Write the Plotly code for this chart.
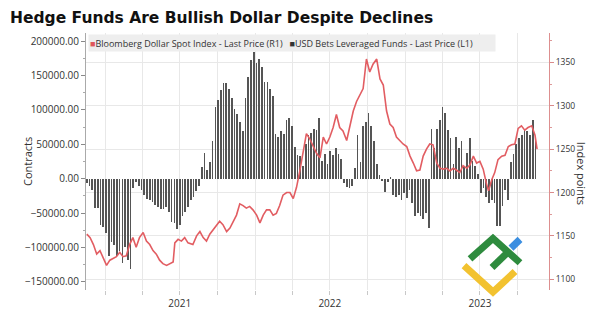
import plotly.graph_objects as go
import pandas as pd

title_text = "Hedge Funds Are Bullish Dollar Despite Declines"
line_name = "Bloomberg Dollar Spot Index - Last Price (R1)"
bar_name = "USD Bets Leveraged Funds - Last Price (L1)"

# Weekly USD bets (leveraged funds), thousands of contracts
bar_start = "2020-11-17"
bar_end = "2023-11-13"
usd_bets_k = [
    -7, -11, -16, -42, -42, -68, -70, -79, -112, -92, -97, -112, -105, -122, -99, -119, -132, -13,
    -5, -10, -17, -24, -29, -31, -34, -39, -41, -44, -44, -41, -48, -63, -65, -73, -67, -54, -48, -41,
    -31, -27, -18, -10,
    17, 37, 13, 25, 55, 105, 115, 129, 139, 139, 131, 117, 101, 94, 82, 70, 117, 148, 172, 184, 169,
    174, 162, 141, 141, 131, 120, 65, 60, 70, 65, 86, 89, 77, 46, 35,
    33, 19, 50, 64, 66, 73, 71, 89, 26, 36, 22, 41, 35, 44, 36, 29, -7, -12, -13, -11, 16, 63, 24, 77,
    82, 95, 77, 55, 21, 5, -3, -20, -5, 2, -24, -26, -24, -31, -21, -28, -16, -35, -54, -50, -54, -59,
    -50, -72,
    73, 45, 73, 85, 104, 95, 71, 59, 21, 60, 45, 55, 19, 38, 59, 26, 19, 7,
    -21, -13, -26, -35, -31, -35, -69, -69, -40, -16, -31,
    24, 36, 50, 59, 64, 71, 69, 64, 85, 62,
]

# Bloomberg Dollar Spot Index
bbdxy_dates = [
    "2020-11-17", "2020-11-25", "2020-12-03", "2020-12-11", "2020-12-19", "2020-12-27", "2021-01-04",
    "2021-01-12", "2021-01-20", "2021-01-28", "2021-02-05", "2021-02-13", "2021-02-21", "2021-03-01",
    "2021-03-09", "2021-03-17", "2021-03-25", "2021-04-03", "2021-04-11", "2021-04-19", "2021-04-27",
    "2021-05-05", "2021-05-13", "2021-05-21", "2021-05-30", "2021-06-07", "2021-06-15", "2021-06-19",
    "2021-06-27", "2021-07-05", "2021-07-13", "2021-07-21", "2021-08-02", "2021-08-11", "2021-08-19",
    "2021-08-27", "2021-09-04", "2021-09-12", "2021-09-20", "2021-09-28", "2021-10-06", "2021-10-14",
    "2021-10-23", "2021-10-31", "2021-11-08", "2021-11-16", "2021-11-24", "2021-12-02", "2021-12-10",
    "2021-12-18", "2021-12-26", "2022-01-04", "2022-01-12", "2022-01-20", "2022-01-28", "2022-02-05",
    "2022-02-13", "2022-02-21", "2022-03-01", "2022-03-09", "2022-03-18", "2022-03-26", "2022-04-03",
    "2022-04-11", "2022-04-19", "2022-04-27", "2022-05-05", "2022-05-13", "2022-05-21", "2022-05-30",
    "2022-06-07", "2022-06-15", "2022-06-23", "2022-07-01", "2022-07-09", "2022-07-17", "2022-07-25",
    "2022-08-02", "2022-08-11", "2022-08-19", "2022-08-27", "2022-09-04", "2022-09-12", "2022-09-20",
    "2022-09-28", "2022-10-03", "2022-10-06", "2022-10-14", "2022-10-23", "2022-10-31", "2022-11-08",
    "2022-11-16", "2022-11-24", "2022-12-02", "2022-12-10", "2022-12-18", "2022-12-26", "2023-01-04",
    "2023-01-12", "2023-01-20", "2023-01-28", "2023-02-05", "2023-02-13", "2023-02-21", "2023-03-01",
    "2023-03-09", "2023-03-18", "2023-03-26", "2023-04-03", "2023-04-11", "2023-04-19", "2023-04-27",
    "2023-05-05", "2023-05-13", "2023-05-21", "2023-05-30", "2023-06-07", "2023-06-15", "2023-06-23",
    "2023-07-01", "2023-07-09", "2023-07-17", "2023-07-22", "2023-07-30", "2023-08-06", "2023-08-14",
    "2023-08-23", "2023-08-31", "2023-09-08", "2023-09-16", "2023-09-24", "2023-10-02", "2023-10-10",
    "2023-10-18", "2023-10-26", "2023-11-04", "2023-11-08", "2023-11-12", "2023-11-17",
]
bbdxy_values = [
    1152, 1148, 1140, 1129, 1133, 1124, 1116,
    1122, 1124, 1126, 1131, 1126, 1127, 1140,
    1148, 1137, 1148, 1154, 1144, 1140, 1133,
    1129, 1122, 1118, 1116, 1118, 1120, 1142,
    1146, 1144, 1148, 1142, 1140, 1150, 1155,
    1148, 1144, 1152, 1157, 1163, 1167, 1163,
    1155, 1159, 1167, 1174, 1187, 1185, 1182,
    1184, 1180, 1174, 1165, 1174, 1180, 1180,
    1174, 1176, 1185, 1197, 1200, 1200, 1193,
    1206, 1225, 1249, 1268, 1262, 1253, 1245,
    1240, 1264, 1256, 1264, 1275, 1290, 1275,
    1271, 1260, 1279, 1294, 1305, 1313, 1320,
    1354, 1342, 1339, 1348, 1354, 1331, 1324,
    1294, 1279, 1275, 1264, 1260, 1256, 1253,
    1242, 1234, 1225, 1226, 1242, 1250, 1256,
    1255, 1234, 1228, 1227, 1228, 1225, 1228,
    1226, 1223, 1231, 1228, 1232, 1242, 1234,
    1236, 1227, 1210, 1202, 1215, 1223, 1238,
    1242, 1243, 1253, 1255, 1256, 1274, 1277,
    1272, 1275, 1277, 1270, 1266, 1250,
]

quarter_ticks = pd.date_range("2021-01-01", "2023-10-01", freq="QS")
year_label_month = 7

bar_dates = pd.date_range(bar_start, bar_end, periods=len(usd_bets_k))
bar_values = [v * 1000 for v in usd_bets_k]

fig = go.Figure()
fig.add_trace(go.Bar(
    x=bar_dates, y=bar_values, name=bar_name, yaxis="y",
    marker=dict(color="#555555", line=dict(width=0)),
    width=1.7 * 86400000,
))
fig.add_trace(go.Scatter(
    x=pd.to_datetime(bbdxy_dates), y=bbdxy_values, name=line_name, yaxis="y2",
    mode="lines", line=dict(color="#e25d62", width=1.6),
))

tick_text = [str(d.year) if d.month == year_label_month else "" for d in quarter_ticks]

fig.update_layout(
    width=599, height=322,
    margin=dict(l=86, r=50, t=33, b=25),
    paper_bgcolor="white", plot_bgcolor="white",
    showlegend=False,
    font=dict(family="Open Sans", size=10, color="#333333"),
    title=dict(text="<b>" + title_text + "</b>", x=10 / 599, xanchor="left",
               y=1 - 18 / 322, yanchor="middle",
               font=dict(family="DejaVu Sans", size=15.5, color="#111111")),
    xaxis=dict(
        type="date", range=["2020-11-15", "2023-12-16"],
        tickvals=quarter_ticks, ticktext=tick_text,
        ticks="outside", ticklen=4, tickcolor="#c8c8c8",
        showgrid=True, gridcolor="#e8e8e8", gridwidth=1,
        showline=False, zeroline=False,
        tickfont=dict(size=10, color="#333333"),
    ),
    yaxis=dict(
        range=[-162000, 212000], tickvals=[-150000, -100000, -50000, 0, 50000, 100000, 150000, 200000],
        tickformat=".2f", ticks="outside", ticklen=4, tickcolor="#888888",
        showline=True, linecolor="#aaaaaa", linewidth=1,
        showgrid=False, zeroline=False,
        minor=dict(ticks="outside", ticklen=2, tickcolor="#aaaaaa", dtick=25000, showgrid=False),
        tickfont=dict(size=10, color="#333333"),
    ),
    yaxis2=dict(
        overlaying="y", side="right",
        range=[1087.6, 1384], tickvals=[1100, 1150, 1200, 1250, 1300, 1350],
        ticks="outside", ticklen=4, tickcolor="#d98a8a",
        showline=True, linecolor="#dd8f8f", linewidth=1,
        showgrid=True, gridcolor="#e8e8e8", gridwidth=1, zeroline=False,
        minor=dict(ticks="outside", ticklen=2, tickcolor="#dd9999", dtick=25, showgrid=False),
        tickfont=dict(size=8.5, color="#333333"),
    ),
    bargap=0,
)

# legend strip
fig.add_annotation(
    xref="paper", yref="paper", x=0.004, y=(297 - 43) / 264, xanchor="left", yanchor="middle",
    text=("<span style='color:#e0575c'>■</span>" + line_name +
          "   <span style='color:#333333'>■</span>" + bar_name),
    showarrow=False, align="left", bgcolor="#eeeeee", width=404, height=14,
    font=dict(family="Open Sans", size=9, color="#333333"),
)
# axis titles
fig.add_annotation(xref="paper", yref="paper", x=(18 - 86) / 463, y=0.5, text="Contracts",
                   textangle=-90, showarrow=False, font=dict(size=11, color="#333333"))
fig.add_annotation(xref="paper", yref="paper", x=(591 - 86) / 463, y=(297 - 177) / 264,
                   text="Index points", textangle=90, showarrow=False,
                   font=dict(size=11, color="#333333"))

# watermark logo (paper coordinates)
def P(px, py):
    return (px - 86) / 463, (297 - py) / 264

def path(points):
    pts = [P(*p) for p in points]
    return "M " + " L ".join(f"{a:.4f},{b:.4f}" for a, b in pts)

logo = [
    ([(464, 272), (493, 299), (515, 278)], "#f2c230"),
    ([(470, 265), (493, 244), (520, 269)], "#2e8b3e"),
    ([(492, 274), (508, 258)], "#2e8b3e"),
    ([(511, 254), (520, 245)], "#3b8ee0"),
]
for pts, col in logo:
    fig.add_shape(type="path", xref="paper", yref="paper", path=path(pts),
                  line=dict(color=col, width=7), layer="above")

fig.write_html("out.html")
